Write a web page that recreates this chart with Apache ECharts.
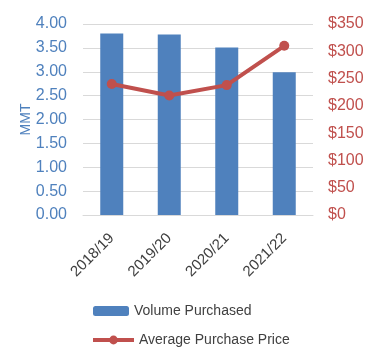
<!DOCTYPE html>
<html><head><meta charset="utf-8">
<script src="https://cdn.jsdelivr.net/npm/echarts@6/dist/echarts.min.js"></script>
<style>html,body{margin:0;padding:0;background:#fff}#c{width:380px;height:356px}</style>
</head><body><div id="c"></div>
<script>
var categories = ['2018/19', '2019/20', '2020/21', '2021/22'];
var volumePurchased = [3.80, 3.78, 3.51, 2.99];
var averagePrice = [240, 219, 238, 310];
var leftTicks = {min: 0, max: 4, interval: 0.5};
var rightTicks = {min: 0, max: 350, interval: 50};
var seriesNames = ['Volume Purchased', 'Average Purchase Price'];

var FONT = '"Liberation Sans", Arial, sans-serif';
var legendText = {color: '#404040', fontSize: 14, fontFamily: FONT};
var chart = echarts.init(document.getElementById('c'), null, {renderer: 'canvas'});
chart.setOption({
  animation: false,
  textStyle: {fontFamily: FONT},
  grid: {left: 83, right: 67, top: 24, bottom: 141},
  legend: [{
    left: 93, top: 304, padding: 0, itemWidth: 36, itemHeight: 10, itemGap: 4,
    textStyle: legendText, data: [seriesNames[0]]
  }, {
    left: 91, top: 333, padding: 0, itemWidth: 41, itemHeight: 11, itemGap: 2,
    lineStyle: {width: 4}, textStyle: legendText, data: [seriesNames[1]]
  }],
  xAxis: {
    type: 'category', data: categories,
    axisLine: {show: true, lineStyle: {color: '#D9D9D9'}},
    axisTick: {show: false},
    axisLabel: {rotate: 45, color: '#404040', fontSize: 15, margin: 21, fontFamily: FONT}
  },
  yAxis: [{
    type: 'value', min: leftTicks.min, max: leftTicks.max, interval: leftTicks.interval,
    name: 'MMT', nameLocation: 'middle', nameGap: 50, nameRotate: 90, nameMoveOverlap: false,
    nameTextStyle: {color: '#4F81BD', fontSize: 14, fontFamily: FONT},
    axisLine: {show: false}, axisTick: {show: false},
    splitLine: {lineStyle: {color: '#D9D9D9'}},
    axisLabel: {color: '#4F81BD', fontSize: 16, margin: 16, fontFamily: FONT,
      formatter: function (v) { return v.toFixed(2); }}
  }, {
    type: 'value', min: rightTicks.min, max: rightTicks.max, interval: rightTicks.interval,
    position: 'right',
    axisLine: {show: false}, axisTick: {show: false}, splitLine: {show: false},
    axisLabel: {color: '#C0504D', fontSize: 16, margin: 15, fontFamily: FONT,
      formatter: function (v) { return '$' + v; }}
  }],
  series: [{
    name: seriesNames[0], type: 'bar', data: volumePurchased, yAxisIndex: 0,
    barWidth: '40%', itemStyle: {color: '#4F81BD'}
  }, {
    name: seriesNames[1], type: 'line', data: averagePrice, yAxisIndex: 1,
    symbol: 'circle', symbolSize: 10,
    lineStyle: {color: '#C0504D', width: 4}, itemStyle: {color: '#C0504D'}
  }]
});
</script></body></html>
